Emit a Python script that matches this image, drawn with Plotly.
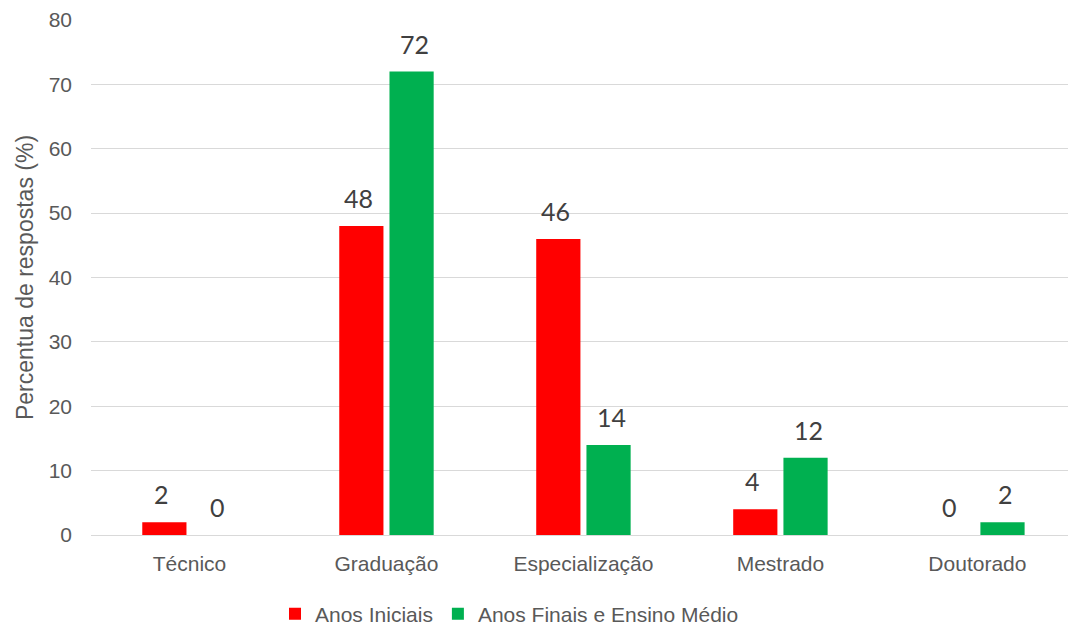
import plotly.graph_objects as go

categorias = ["Técnico", "Graduação", "Especialização", "Mestrado", "Doutorado"]
anos_iniciais = [2, 48, 46, 4, 0]
anos_finais = [0, 72, 14, 12, 2]
series = [
    ("Anos Iniciais", anos_iniciais, "#FF0000", -28),
    ("Anos Finais e Ensino Médio", anos_finais, "#00B050", 28),
]

fig = go.Figure()
annotations = []
for nome, valores, cor, deslocamento in series:
    fig.add_trace(go.Bar(
        name=nome, x=categorias, y=valores,
        marker=dict(color=cor, line=dict(width=0)),
    ))
    for cat, v in zip(categorias, valores):
        annotations.append(dict(
            x=cat, y=v, xref="x", yref="y", text=str(v), showarrow=False,
            xshift=deslocamento, yshift=11, yanchor="bottom",
            font=dict(family="Lato, Open Sans, sans-serif", size=25, color="#404040"),
        ))

fig.update_layout(
    width=1068, height=625,
    margin=dict(l=91, r=0, t=20, b=90),
    paper_bgcolor="white", plot_bgcolor="white",
    barmode="group", bargap=0.49, bargroupgap=0.12,
    annotations=annotations,
    font=dict(family="Liberation Sans, Arial, sans-serif", color="#595959", size=21),
    xaxis=dict(
        range=[-0.5, 4.46], showgrid=False, showline=False, zeroline=False,
        ticks="", tickfont=dict(size=21, color="#595959"), ticklabelstandoff=14,
    ),
    yaxis=dict(
        range=[0, 80], dtick=10, showgrid=True, gridcolor="#D9D9D9", gridwidth=1,
        zeroline=True, zerolinecolor="#D9D9D9", zerolinewidth=1, showline=False,
        ticks="", tickfont=dict(size=21, color="#595959"), ticklabelstandoff=18,
        title=dict(text="Percentua de respostas (%)", font=dict(size=23, color="#595959"), standoff=8),
    ),
    legend=dict(
        orientation="h", xref="container", yref="container",
        x=275 / 1068, xanchor="left", y=(625 - 614) / 625, yanchor="middle",
        font=dict(size=21, color="#595959"), itemwidth=30, traceorder="normal",
    ),
)

fig.write_html("out.html")
